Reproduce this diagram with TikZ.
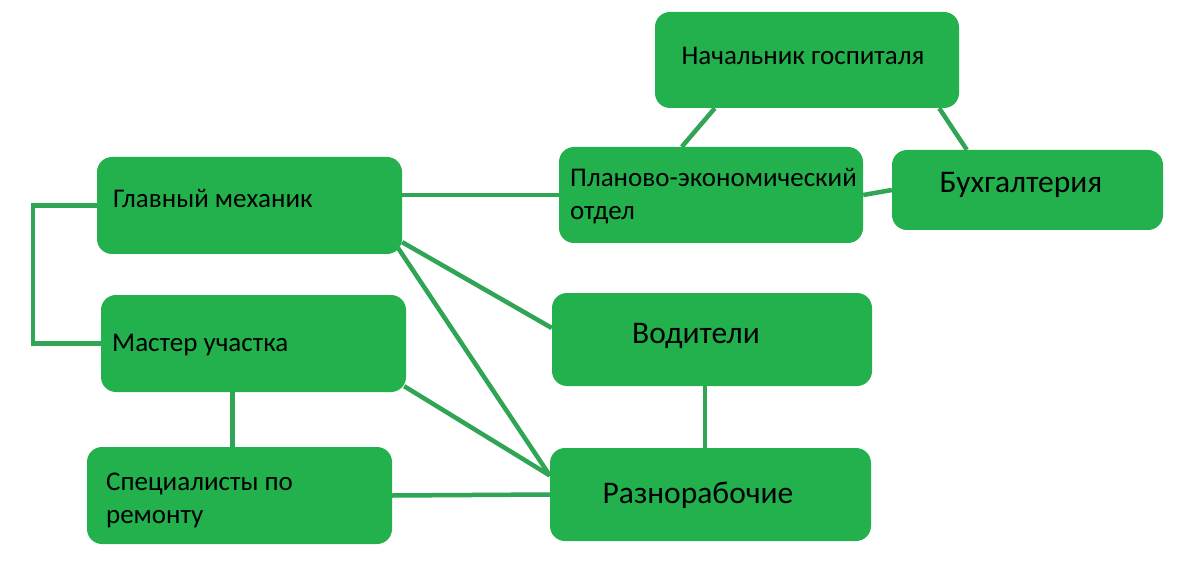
\documentclass[tikz,border=0pt]{standalone}
\usepackage{fontspec}
\setmainfont{Carlito}
\usepackage{tikz}
\usetikzlibrary{positioning}
\usepackage{xcolor}
\definecolor{boxgreen}{RGB}{34,177,76}
\definecolor{linegreen}{RGB}{48,165,85}

\begin{document}
\begin{tikzpicture}[x=1pt, y=-1pt]
      \tikzstyle{unit} = [rectangle, rounded corners=15pt, fill=boxgreen, inner sep=0pt]
      \tikzstyle{txt} = [inner sep=0pt, font=\fontsize{27}{33}\selectfont, align=left]
      \tikzstyle{bigtxt} = [inner sep=0pt, font=\fontsize{31.5}{36}\selectfont]
      \tikzstyle{link} = [draw=linegreen, line width=4.5pt]

      \useasboundingbox[fill=white] (0,0) rectangle (1185,585);

      \node[unit, minimum width=304pt, minimum height=96pt] (nach) at (807,60) {};
      \node[unit, minimum width=304pt, minimum height=96pt] (plan) at (711,195) {};
      \node[unit, minimum width=271pt, minimum height=80pt] (buh) at (1027.5,190) {};
      \node[unit, minimum width=305pt, minimum height=97pt] (gm) at (249.5,205.5) {};
      \node[unit, minimum width=305pt, minimum height=97pt] (mu) at (253.5,343.5) {};
      \node[unit, minimum width=305pt, minimum height=97pt] (spec) at (239.5,495.5) {};
      \node[unit, minimum width=320pt, minimum height=93pt] (vod) at (712,339.5) {};
      \node[unit, minimum width=321pt, minimum height=93pt] (raz) at (710.5,494.5) {};

      \node[txt, anchor=base] (nacht) at (803,65) {Начальник госпиталя};
      \node[txt, anchor=base west] (plant) at (570,220) {Планово-экономический\\отдел};
      \node[bigtxt, anchor=base] (buht) at (1021,193) {Бухгалтерия};
      \node[txt, anchor=base west] (gmt) at (113,208) {Главный механик};
      \node[txt, anchor=base west] (mut) at (112,351) {Мастер участка};
      \node[txt, anchor=base west] (spect) at (106,523) {Специалисты по\\ремонту};
      \node[bigtxt, anchor=base] (vodt) at (696,343) {Водители};
      \node[bigtxt, anchor=base] (razt) at (698,503) {Разнорабочие};

      \draw[link] ([xshift=60pt]nach.south west) -- ([xshift=123pt]plan.north west);
      \draw[link] ([xshift=-20pt]nach.south east) -- ([xshift=75pt]buh.north west);
      \draw[link] (gm.east |- plan.west) -- (plan.west);
      \draw[link] (plan.east) -- (buh.west);
      \draw[link] ([yshift=12pt]gm.south east) -- ([yshift=11.5pt]vod.west);
      \draw[link] ([xshift=-4pt, yshift=6pt]gm.south east) -- ([yshift=19pt]raz.west);
      \draw[link] ([xshift=-2pt, yshift=6pt]mu.south east) -- ([yshift=19pt]raz.west);
      \draw[link] (spec.east) -- (raz.west);
      \draw[link] ([xshift=-7pt]vod.south) -- ([xshift=-7pt]vod.south |- raz.north);
      \draw[link] ([xshift=-21pt]mu.south) -- ([xshift=-21pt]mu.south |- spec.north);
      \draw[link] (gm.west) -- ++(-64,0) |- (mu.west);
    \end{tikzpicture}
\end{document}
